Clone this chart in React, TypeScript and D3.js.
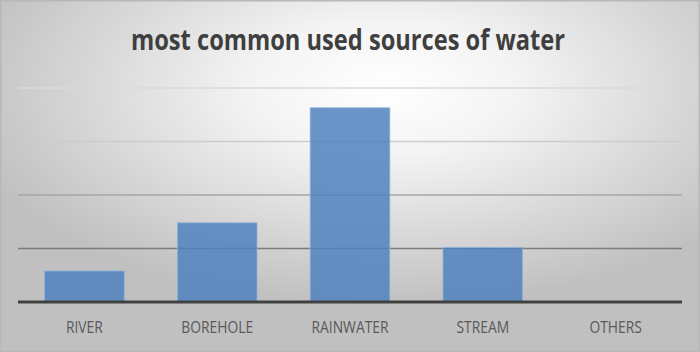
import React from 'react';
import * as d3 from 'd3';

const categories = ['RIVER', 'BOREHOLE', 'RAINWATER', 'STREAM', 'OTHERS'];
const values = [5.8, 14.8, 36.3, 10.2, 0];
const gridTicks = [10, 20, 30, 40];

const width = 700;
const height = 352;

export default function App() {
  const margin = { top: 88, right: 18, bottom: 50, left: 18 };

  const x = d3
    .scaleBand<string>()
    .domain(categories)
    .range([margin.left, width - margin.right])
    .paddingInner(0.4)
    .paddingOuter(0.2);

  const y = d3
    .scaleLinear()
    .domain([0, 40])
    .range([height - margin.bottom, margin.top]);

  // gridlines get darker towards the axis in the original
  const gridColors = ['#7c7c7c', '#a6a6a6', '#cccccc', '#dadada'];

  return (
    <svg
      width={width}
      height={height}
      style={{ position: 'absolute', left: 0, top: 0, display: 'block' }}
    >
      <defs>
        <radialGradient id="bg" cx="0.55" cy="0.25" r="0.62" fx="0.55" fy="0.25">
          <stop offset="0" stopColor="#ffffff" />
          <stop offset="0.3" stopColor="#f4f4f4" />
          <stop offset="1" stopColor="#c0c0c0" />
        </radialGradient>
      </defs>

      <rect x={0} y={0} width={width} height={height} fill="url(#bg)" />
      <rect
        x={0.75}
        y={0.75}
        width={width - 1.5}
        height={height - 1.5}
        fill="none"
        stroke="#b8b8b8"
        strokeWidth={1.5}
      />

      <text
        x={348}
        y={49.5}
        textAnchor="middle"
        fontFamily="'Open Sans', sans-serif"
        fontWeight="bold"
        fontSize={28}
        fill="#3f3f3f"
        textLength={434}
        lengthAdjust="spacingAndGlyphs"
      >
        most common used sources of water
      </text>

      {gridTicks.map((t, i) => (
        <line
          key={t}
          x1={margin.left}
          x2={width - margin.right}
          y1={y(t)}
          y2={y(t)}
          stroke={gridColors[i]}
          strokeWidth={1.6}
        />
      ))}

      {categories.map((c, i) => (
        <rect
          key={c}
          x={x(c)}
          y={y(values[i])}
          width={x.bandwidth()}
          height={y(0) - y(values[i])}
          fill="#4f81bd"
          fillOpacity={0.84}
          stroke="#93b3da"
          strokeWidth={0.8}
          strokeOpacity={values[i] > 0 ? 1 : 0}
        />
      ))}

      <line
        x1={margin.left}
        x2={width - margin.right}
        y1={y(0)}
        y2={y(0)}
        stroke="#404040"
        strokeWidth={3}
      />

      {categories.map(c => (
        <g key={c} transform={`translate(${(x(c) ?? 0) + x.bandwidth() / 2}, 333.3) scale(0.84, 1)`}>
          <text
            textAnchor="middle"
            fontFamily="'Open Sans', sans-serif"
            fontSize={16.5}
            fill="#595959"
          >
            {c}
          </text>
        </g>
      ))}
    </svg>
  );
}
